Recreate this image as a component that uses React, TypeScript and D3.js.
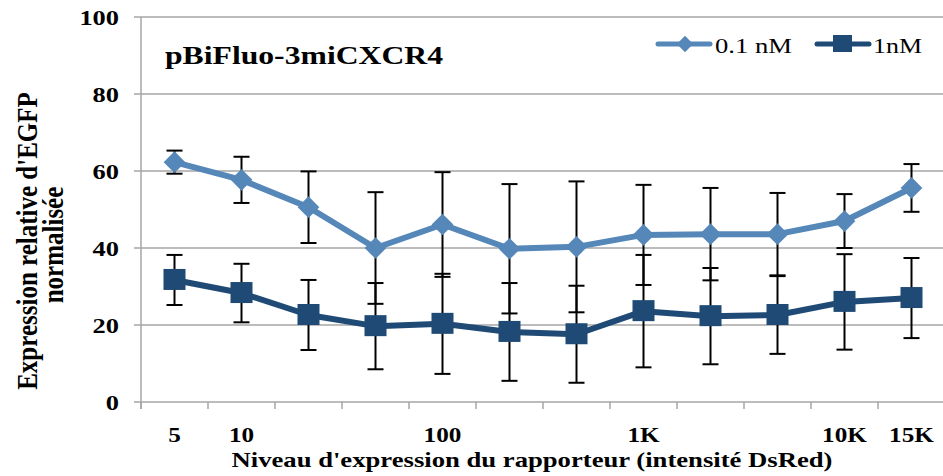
import React from "react";
import * as d3 from "d3";

const categories = ["c1", "c2", "c3", "c4", "c5", "c6", "c7", "c8", "c9", "c10", "c11", "c12"];
const tickLabels = ["5", "10", "", "", "100", "", "", "1K", "", "", "10K", "15K"];
const series01 = [62.3, 57.7, 50.6, 40.0, 46.1, 39.8, 40.3, 43.4, 43.6, 43.6, 47.0, 55.6];
const err01 = [3.0, 6.0, 9.3, 14.5, 13.6, 16.8, 17.0, 13.0, 12.0, 10.7, 7.0, 6.2];
const series1 = [31.7, 28.3, 22.6, 19.7, 20.3, 18.2, 17.6, 23.6, 22.3, 22.6, 26.0, 27.0];
const err1 = [6.5, 7.6, 9.1, 11.2, 13.0, 12.7, 12.6, 14.6, 12.5, 10.1, 12.4, 10.4];
const yTicks = [0, 20, 40, 60, 80, 100];

const W = 943;
const H = 476;
const LIGHT = "#5587B9";
const DARK = "#1F4A75";
const FONT = "Liberation Serif, Times New Roman, Times, serif";
const SX = 1.2;

function SText(props: {
  x: number;
  y: number;
  anchor?: string;
  size: number;
  bold?: boolean;
  dy?: string;
  children: React.ReactNode;
}) {
  return (
    <text
      transform={`translate(${props.x},${props.y}) scale(${SX},1)`}
      textAnchor={props.anchor || "start"}
      fontWeight={props.bold ? "bold" : "normal"}
      fontSize={props.size}
      dy={props.dy}
      fill="#000"
      style={{ fontFamily: FONT }}
    >
      {props.children}
    </text>
  );
}

export default function App() {
  const x = d3.scaleBand<string>().domain(categories).range([141, 945]).padding(0);
  const y = d3.scaleLinear().domain([0, 100]).range([402, 17]);
  const cx = (i: number) => (x(categories[i]) as number) + x.bandwidth() / 2;
  const line = d3
    .line<number>()
    .x((_, i) => cx(i))
    .y((d) => y(d));

  const diamond = d3.symbol().type(d3.symbolDiamond2).size(300)();
  const boundaries = d3.range(categories.length + 1).map((i) =>
    i < categories.length ? (x(categories[i]) as number) : 945
  );

  const errBars = (vals: number[], errs: number[], key: string) =>
    vals.map((v, i) => {
      const x0 = cx(i);
      const yt = y(v + errs[i]);
      const yb = y(v - errs[i]);
      return (
        <g key={key + i} stroke="#000" strokeWidth={2}>
          <line x1={x0} x2={x0} y1={yt} y2={yb} />
          <line x1={x0 - 8} x2={x0 + 8} y1={yt} y2={yt} />
          <line x1={x0 - 8} x2={x0 + 8} y1={yb} y2={yb} />
        </g>
      );
    });

  return (
    <svg
      width={W}
      height={H}
      style={{ position: "absolute", left: 0, top: 0, background: "#fff", fontFamily: FONT }}
    >
      {/* gridlines */}
      {yTicks.map((t) => (
        <g key={"g" + t}>
          <line x1={141} x2={945} y1={y(t)} y2={y(t)} stroke="#A6A6A6" strokeWidth={1.5} />
          <line x1={134} x2={141} y1={y(t)} y2={y(t)} stroke="#A6A6A6" strokeWidth={1.5} />
          <SText x={119} y={y(t)} dy="0.36em" anchor="end" size={22} bold>
            {t}
          </SText>
        </g>
      ))}
      {/* axes */}
      <line x1={141} x2={141} y1={y(100)} y2={y(0) + 7} stroke="#A6A6A6" strokeWidth={1.5} />
      {boundaries.map((b, i) => (
        <line key={"tk" + i} x1={b} x2={b} y1={y(0)} y2={y(0) + 7} stroke="#A6A6A6" strokeWidth={1.5} />
      ))}
      {tickLabels.map((l, i) => (
        <SText key={"xl" + i} x={cx(i)} y={442} anchor="middle" size={21} bold>
          {l}
        </SText>
      ))}
      {/* axis titles */}
      <text
        x={532}
        y={467}
        textAnchor="middle"
        fontWeight="bold"
        fontSize={22}
        fill="#000"
        textLength={601}
        lengthAdjust="spacingAndGlyphs"
        style={{ fontFamily: FONT }}
      >
        Niveau d'expression du rapporteur (intensité DsRed)
      </text>
      <g transform={`scale(${SX},1)`}>
        <text
          transform={`translate(${37 / SX},241) rotate(-90)`}
          textAnchor="middle"
          fontWeight="bold"
          fontSize={25}
          fill="#000"
          style={{ fontFamily: FONT }}
        >
          Expression relative d'EGFP
        </text>
        <text
          transform={`translate(${63 / SX},245) rotate(-90)`}
          textAnchor="middle"
          fontWeight="bold"
          fontSize={25}
          fill="#000"
          style={{ fontFamily: FONT }}
        >
          normalisée
        </text>
      </g>
      {/* title */}
      <text
        x={165}
        y={64}
        fontWeight="bold"
        fontSize={25}
        fill="#000"
        textLength={278}
        lengthAdjust="spacingAndGlyphs"
        style={{ fontFamily: FONT }}
      >
        pBiFluo-3miCXCR4
      </text>
      {/* legend */}
      <g>
        <line x1={658} x2={710} y1={44} y2={44} stroke={LIGHT} strokeWidth={5} strokeLinecap="round" />
        <path d={d3.symbol().type(d3.symbolDiamond2).size(170)() as string} transform="translate(685,44)" fill={LIGHT} />
        <text x={715} y={53} fontSize={22} fill="#000" textLength={77} lengthAdjust="spacingAndGlyphs" style={{ fontFamily: FONT }}>
          0.1 nM
        </text>
        <line x1={817} x2={869} y1={44} y2={44} stroke={DARK} strokeWidth={5} strokeLinecap="round" />
        <rect x={833} y={35} width={19} height={17} fill={DARK} />
        <text x={873} y={53} fontSize={22} fill="#000" textLength={49} lengthAdjust="spacingAndGlyphs" style={{ fontFamily: FONT }}>
          1nM
        </text>
      </g>
      {/* error bars */}
      {errBars(series01, err01, "e01")}
      {errBars(series1, err1, "e1")}
      {/* lines */}
      <path d={line(series01) as string} fill="none" stroke={LIGHT} strokeWidth={6} strokeLinejoin="round" />
      <path d={line(series1) as string} fill="none" stroke={DARK} strokeWidth={6} strokeLinejoin="round" />
      {/* markers */}
      {series01.map((v, i) => (
        <path key={"m01" + i} d={diamond as string} transform={`translate(${cx(i)},${y(v)})`} fill={LIGHT} />
      ))}
      {series1.map((v, i) => (
        <rect key={"m1" + i} x={cx(i) - 11} y={y(v) - 11} width={22} height={21} fill={DARK} />
      ))}
    </svg>
  );
}
